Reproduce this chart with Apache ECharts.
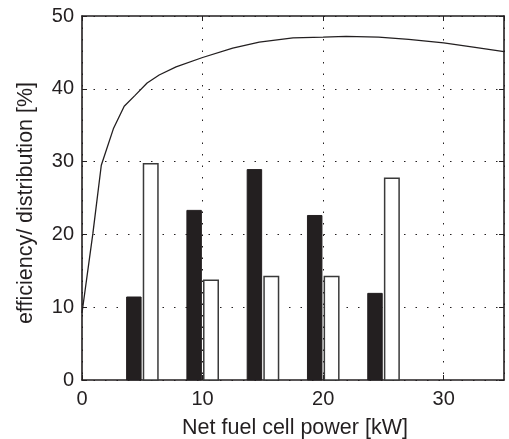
<!DOCTYPE html>
<html>
<head>
<meta charset="utf-8">
<script src="https://cdn.jsdelivr.net/npm/echarts@6/dist/echarts.min.js"></script>
<style>
html,body{margin:0;padding:0;background:#fff;}
#chart{width:509px;height:439px;}
</style>
</head>
<body>
<div id="chart"></div>
<script>
// Efficiency curve (x: net fuel cell power kW, y: efficiency %)
var effPower = [0, 0.9, 1.6, 2.6, 3.5, 4.4, 5.4, 6.4, 7.8, 10, 12.5, 14.7, 17.5, 20, 21.9, 24.6, 27.1, 30, 32.6, 35];
var effValue = [9.2, 20.1, 29.5, 34.5, 37.6, 39.1, 40.8, 41.9, 43.0, 44.3, 45.6, 46.4, 47.0, 47.1, 47.2, 47.1, 46.8, 46.3, 45.7, 45.1];
// Distribution bars
var blackPower = [4.3, 9.3, 14.3, 19.3, 24.3];
var blackValue = [11.4, 23.3, 28.9, 22.6, 11.9];
var whitePower = [5.7, 10.7, 15.7, 20.7, 25.7];
var whiteValue = [29.7, 13.7, 14.2, 14.2, 27.7];
var xTicks = [0, 10, 20, 30];
var yTicks = [0, 10, 20, 30, 40, 50];
var xTitle = 'Net fuel cell power [kW]';
var yTitle = 'efficiency/ distribution [%]';

function pairs(xs, ys){ return xs.map(function(x, i){ return [x, ys[i]]; }); }

var INK = '#231f20';
var FONT = 'Liberation Sans, Arial, Helvetica, sans-serif';
var BAR_W = 1.2;

function barRenderer(fill, stroke, lw){
  return function(params, api){
    var x = api.value(0), y = api.value(1);
    var top = api.coord([x, y]);
    var base = api.coord([x, 0]);
    var w = api.size([BAR_W, 0])[0];
    return {
      type: 'rect',
      shape: {x: top[0] - w/2, y: top[1], width: w, height: base[1] - top[1]},
      style: {fill: fill, stroke: stroke, lineWidth: lw}
    };
  };
}

var chart = echarts.init(document.getElementById('chart'), null, {renderer: 'canvas'});
var axisCommon = {
  min: 0,
  axisLine: {show: true, onZero: false, lineStyle: {color: INK, width: 1.6}},
  axisTick: {show: true, inside: true, length: 5, lineStyle: {color: INK, width: 1}},
  axisLabel: {color: INK, fontSize: 20, fontFamily: FONT}
};
var option = {
  animation: false,
  backgroundColor: '#fff',
  grid: {left: 82, right: 5, top: 16, bottom: 59, containLabel: false},
  graphic: [
    {type: 'text', x: 295, y: 428,
     style: {text: xTitle, fill: INK, font: '21.5px ' + FONT, align: 'center', verticalAlign: 'middle'}},
    {type: 'text', x: 26, y: 203, rotation: Math.PI / 2,
     style: {text: yTitle, fill: INK, font: '21.5px ' + FONT, align: 'center', verticalAlign: 'middle'}}
  ],
  xAxis: [
    Object.assign({}, axisCommon, {
      type: 'value', position: 'bottom', max: 35, interval: 10,
      axisLabel: {color: INK, fontSize: 20, fontFamily: FONT, margin: 9, showMaxLabel: false,
        formatter: function(v){ return xTicks.indexOf(v) >= 0 ? String(v) : ''; }},
      splitLine: {show: true, lineStyle: {color: INK, width: 1, type: [1.5, 10]}}
    }),
    Object.assign({}, axisCommon, {
      type: 'value', position: 'top', max: 35, interval: 10,
      axisLabel: {show: false}, splitLine: {show: false}
    })
  ],
  yAxis: [
    Object.assign({}, axisCommon, {
      type: 'value', position: 'left', max: 50, interval: 10,
      axisLabel: {color: INK, fontSize: 20, fontFamily: FONT, margin: 8,
        formatter: function(v){ return yTicks.indexOf(v) >= 0 ? String(v) : ''; }},
      splitLine: {show: true, lineStyle: {color: INK, width: 1, type: [1.5, 10]}}
    }),
    Object.assign({}, axisCommon, {
      type: 'value', position: 'right', max: 50, interval: 10,
      axisLabel: {show: false}, splitLine: {show: false}
    })
  ],
  series: [
    {
      type: 'custom', name: 'black', renderItem: barRenderer(INK, INK, 1),
      data: pairs(blackPower, blackValue), encode: {x: 0, y: 1}, z: 2
    },
    {
      type: 'custom', name: 'white', renderItem: barRenderer('#ffffff', '#3a3a3a', 1.5),
      data: pairs(whitePower, whiteValue), encode: {x: 0, y: 1}, z: 2
    },
    {
      type: 'line', name: 'efficiency', data: pairs(effPower, effValue),
      showSymbol: false, smooth: false,
      lineStyle: {color: INK, width: 1.3}, z: 3
    }
  ]
};
chart.setOption(option);
</script>
</body>
</html>
